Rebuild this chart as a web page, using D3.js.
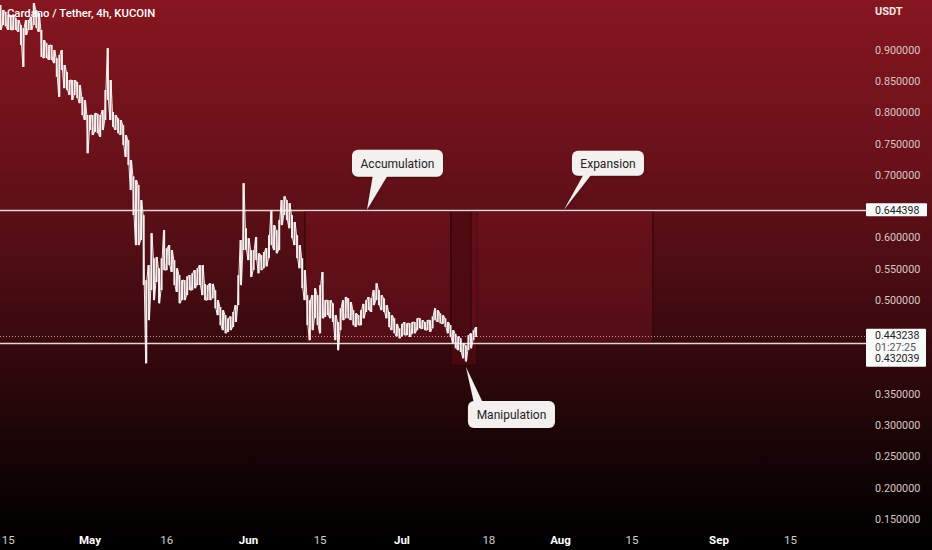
<!DOCTYPE html>
<html><head><meta charset="utf-8">
<script src="https://cdn.jsdelivr.net/npm/d3@7"></script>
<style>html,body{margin:0;padding:0;background:#000;overflow:hidden}</style>
</head><body><svg id="c" width="932" height="550"></svg>
<script>
// ---- data ----
const titleText = "Cardano / Tether, 4h, KUCOIN";
const quoteUnit = "USDT";
const startTime = "2022-04-13T12:00";
const stepHours = 12;
const highs = [
.972,.964,.961,.956,.956,.956,.951,.948,.940,.935,
.948,.948,.953,.975,.964,.959,.932,.916,.911,.908,
.908,.900,.887,.892,.900,.876,.865,.852,.852,.852,
.849,.844,.825,.820,.796,.796,.796,.799,.798,.796,
.804,.836,.903,.852,.801,.796,.791,.788,.780,.764,
.756,.724,.698,.692,.684,.660,.636,.532,.556,.607,
.567,.569,.551,.567,.612,.583,.588,.580,.564,.551,
.540,.532,.532,.538,.540,.543,.548,.551,.556,.556,
.526,.524,.527,.526,.516,.500,.489,.484,.476,.471,
.474,.481,.492,.540,.596,.687,.615,.599,.580,.580,
.601,.575,.572,.577,.583,.604,.644,.620,.612,.628,
.660,.666,.660,.655,.636,.625,.604,.588,.567,.548,
.508,.500,.508,.519,.508,.524,.545,.500,.500,.500,
.495,.476,.465,.487,.500,.505,.503,.497,.484,.479,
.476,.484,.494,.500,.505,.503,.516,.527,.516,.508,
.503,.492,.481,.476,.471,.462,.455,.462,.465,.463,
.463,.465,.465,.471,.471,.468,.465,.468,.468,.474,
.487,.484,.479,.476,.471,.465,.460,.452,.446,.442,
.439,.431,.428,.444,.447,.452,.457];
const lows = [
.932,.940,.938,.932,.932,.932,.932,.929,.908,.873,
.924,.932,.932,.940,.935,.929,.889,.887,.887,.884,
.884,.879,.857,.825,.868,.839,.836,.828,.820,.828,
.823,.815,.796,.788,.735,.772,.764,.769,.767,.761,
.772,.788,.820,.788,.777,.772,.767,.764,.748,.729,
.716,.676,.636,.588,.588,.596,.524,.399,.468,.516,
.500,.529,.495,.516,.548,.548,.556,.545,.524,.513,
.495,.500,.500,.508,.516,.516,.519,.524,.524,.508,
.500,.500,.500,.503,.487,.476,.460,.452,.447,.449,
.452,.457,.465,.492,.524,.580,.580,.564,.537,.548,
.564,.543,.548,.551,.554,.567,.588,.580,.575,.580,
.620,.636,.628,.615,.599,.588,.567,.551,.519,.500,
.460,.436,.452,.471,.460,.447,.471,.473,.476,.471,
.465,.436,.420,.452,.468,.471,.471,.468,.460,.457,
.460,.460,.471,.481,.484,.481,.492,.500,.492,.484,
.481,.471,.457,.452,.447,.442,.439,.442,.444,.444,
.441,.446,.447,.452,.455,.454,.452,.452,.449,.455,
.468,.465,.463,.462,.457,.447,.441,.431,.423,.420,
.417,.407,.402,.420,.423,.436,.441];
const yTicks = [0.90,0.85,0.80,0.75,0.70,0.60,0.55,0.50,0.35,0.30,0.25,0.20,0.15];
const xTickDates = ["2022-04-15","2022-05-01","2022-05-16","2022-06-01","2022-06-15","2022-07-01","2022-07-18","2022-08-01","2022-08-15","2022-09-01","2022-09-15"];
const xTickLabels = ["15","May","16","Jun","15","Jul","18","Aug","15","Sep","15"];
const levelPrices = [0.644398, 0.432039];
const lastPrice = 0.443238;
const countdown = "01:27:25";
const zoneNames = ["Accumulation","Manipulation","Expansion"];
const zoneStart = ["2022-06-12T01:00","2022-07-10T14:00","2022-07-14T12:00"];
const zoneEnd   = ["2022-07-10T14:00","2022-07-15T16:00","2022-08-19T02:00"];
const zoneTop   = [0.644398,0.644398,0.644398];
const zoneBottom= [0.432039,0.396,0.432039];
const calloutTexts = ["Accumulation","Expansion","Manipulation"];
const calloutDates = ["2022-06-24T04:00","2022-08-01T16:30","2022-07-13T12:30"];
const calloutPrices = [0.644398,0.644398,0.393];

// ---- layout ----
const W = 932, H = 550, plotRight = 866;
const parse = d3.timeParse("%Y-%m-%dT%H:%M");
const parseDay = d3.timeParse("%Y-%m-%d");
const x = d3.scaleTime().domain([new Date(2022,4,1), new Date(2022,8,1)]).range([90,719]);
const y = d3.scaleLinear().domain([0.15,0.9]).range([519,50]);
const t0 = parse(startTime);
const candles = highs.map((h,i)=>({t:d3.timeHour.offset(t0,i*stepHours),h,l:lows[i]}));

const svg = d3.select("#c");
const defs = svg.append("defs");
const g = defs.append("linearGradient").attr("id","bg").attr("gradientUnits","userSpaceOnUse")
  .attr("x1",0).attr("y1",0).attr("x2",0).attr("y2",H);
[[0,"#86161f"],[0.3,"#68111a"],[0.55,"#430b11"],[0.75,"#220608"],[0.95,"#040101"],[1,"#000"]]
  .forEach(([o,c])=>g.append("stop").attr("offset",o).attr("stop-color",c));
defs.append("clipPath").attr("id","plot").append("rect").attr("x",0).attr("y",0).attr("width",plotRight).attr("height",H);
const sh = defs.append("filter").attr("id","sh").attr("x","-20%").attr("y","-20%").attr("width","140%").attr("height","160%");
sh.append("feDropShadow").attr("dx",0).attr("dy",1).attr("stdDeviation",1.5).attr("flood-color","#000").attr("flood-opacity",0.35);

svg.append("rect").attr("width",W).attr("height",H).attr("fill","url(#bg)");

// y axis labels
const yAx = svg.append("g").attr("font-family","Roboto, 'Liberation Sans', sans-serif").attr("font-size",10.8).attr("fill","#d9c6c6");
yAx.selectAll("text").data(yTicks).join("text").attr("x",875).attr("y",d=>y(d)).attr("dy","0.35em").text(d=>d3.format(".6f")(d));
svg.append("text").attr("x",875).attr("y",15).attr("font-family","Roboto, sans-serif").attr("font-size",11).attr("font-weight",700).attr("fill","#f2e6e6").text(quoteUnit);

// x axis labels
const xAx = svg.append("g").attr("font-family","'Liberation Sans Narrow', 'Arial Narrow', Roboto, sans-serif").attr("font-size",11.5);
xAx.selectAll("text").data(xTickDates).join("text")
  .attr("x",d=>x(parseDay(d))).attr("y",544).attr("text-anchor","middle")
  .attr("fill",(d,i)=>isNaN(+xTickLabels[i])?"#ffffff":"#d0d0d0")
  .attr("font-weight",(d,i)=>isNaN(+xTickLabels[i])?700:400)
  .text((d,i)=>xTickLabels[i]);

const plot = svg.append("g").attr("clip-path","url(#plot)");

// zones
const zoneFill = ["rgba(140,22,36,0.32)","rgba(80,10,18,0.75)","rgba(140,22,36,0.32)"];
plot.selectAll("rect.zone").data(zoneNames).join("rect").attr("class","zone")
  .attr("x",(d,i)=>x(parse(zoneStart[i])))
  .attr("y",(d,i)=>y(zoneTop[i])+1.5)
  .attr("width",(d,i)=>x(parse(zoneEnd[i]))-x(parse(zoneStart[i])))
  .attr("height",(d,i)=>y(zoneBottom[i])-y(zoneTop[i])-1.5)
  .attr("fill",(d,i)=>zoneFill[i]).attr("stroke","#2a0508").attr("stroke-width",1);

// level lines
plot.selectAll("line.lvl").data(levelPrices).join("line").attr("class","lvl")
  .attr("x1",0).attr("x2",plotRight).attr("y1",d=>Math.round(y(d))+0.5).attr("y2",d=>Math.round(y(d))+0.5)
  .attr("stroke","#ecd2d2").attr("stroke-width",1.3);
plot.append("line").attr("x1",0).attr("x2",plotRight).attr("y1",Math.round(y(lastPrice))+0.5).attr("y2",Math.round(y(lastPrice))+0.5)
  .attr("stroke","#c98a8a").attr("stroke-width",1).attr("stroke-dasharray","1,2");

// price: high-low bars + zigzag through each bar's high/low
plot.selectAll("rect.c").data(candles).join("rect").attr("class","c")
  .attr("x",d=>x(d.t)-1).attr("width",2)
  .attr("y",d=>y(d.h)).attr("height",d=>Math.max(1,y(d.l)-y(d.h)))
  .attr("fill","#f6efef");
const zz = [];
candles.forEach((d,i)=>{
  const cx = x(d.t);
  if(i%2===0){ zz.push([cx-0.6,y(d.h)]); zz.push([cx+0.6,y(d.l)]); }
  else { zz.push([cx-0.6,y(d.l)]); zz.push([cx+0.6,y(d.h)]); }
});
plot.append("path").attr("d",d3.line()(zz)).attr("fill","none").attr("stroke","#f6efef").attr("stroke-width",1).attr("stroke-linejoin","miter");

// title
svg.append("text").attr("x",7).attr("y",17).attr("font-family","Roboto, sans-serif").attr("font-size",11.3)
  .attr("font-weight",500).attr("fill","#ffffff").text(titleText);

// price label boxes
const lb = svg.append("g").attr("font-family","Roboto, sans-serif").attr("font-size",10.6);
const yHi = y(levelPrices[0]);
lb.append("rect").attr("x",plotRight).attr("y",yHi-6.5).attr("width",61).attr("height",13).attr("fill","#fafafa").attr("rx",1);
lb.append("text").attr("x",875).attr("y",yHi).attr("dy","0.36em").attr("fill","#222").text(d3.format(".6f")(levelPrices[0]));
const yLp = y(lastPrice);
lb.append("rect").attr("x",plotRight).attr("y",yLp-7).attr("width",60).attr("height",38).attr("fill","#fafafa").attr("rx",1);
lb.append("text").attr("x",875).attr("y",yLp).attr("dy","0.36em").attr("fill","#222").text(d3.format(".6f")(lastPrice));
lb.append("text").attr("x",875).attr("y",yLp+11.5).attr("dy","0.36em").attr("fill","#555").text(countdown);
lb.append("text").attr("x",875).attr("y",yLp+23).attr("dy","0.36em").attr("fill","#222").text(d3.format(".6f")(levelPrices[1]));

// callouts
const cbx = [[-15,-60,91,27,21,36],[8,-59,72,25,12,20],[2,34,87,27,6,15]];
calloutTexts.forEach((txt,i)=>{
  const tx = x(parse(calloutDates[i])), ty = y(calloutPrices[i]);
  const [dx,dy,w,h,b0,b1] = cbx[i];
  const bx = tx+dx, by = ty+dy;
  const gg = svg.append("g").attr("filter","url(#sh)");
  const baseY = dy<0 ? by+h-2 : by+2;
  gg.append("path").attr("d",`M${tx},${ty} L${bx+b0},${baseY} L${bx+b1},${baseY} Z`).attr("fill","#f4f0f0");
  gg.append("rect").attr("x",bx).attr("y",by).attr("width",w).attr("height",h).attr("rx",6).attr("fill","#f4f0f0");
  svg.append("text").attr("x",bx+w/2).attr("y",by+h/2).attr("dy","0.35em").attr("text-anchor","middle")
    .attr("font-family","Roboto, sans-serif").attr("font-size",12).attr("fill","#222").text(txt);
});
</script></body></html>
